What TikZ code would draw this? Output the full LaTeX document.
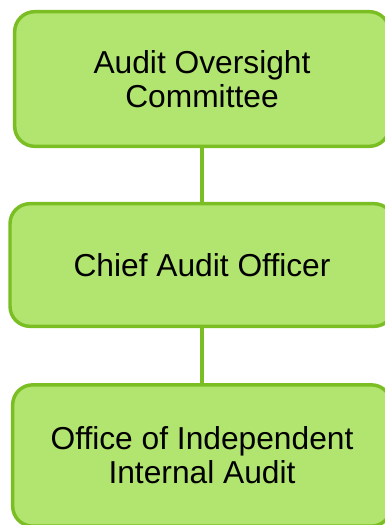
\documentclass[tikz,border=0pt]{standalone}
\usepackage{fontspec}
\setmainfont{Liberation Sans}
\usepackage{tikz}
\usepackage{xcolor}
\usetikzlibrary{positioning}
\definecolor{cFill}{RGB}{177,229,111}
\definecolor{cEdge}{RGB}{122,190,36}
\tikzset{
	orgbox/.style ={rectangle, rounded corners=15pt, draw=cEdge, fill=cFill, line width=2.6pt, align=center, text=black, inner sep=0pt, font=\fontsize{23.8}{25.5}\selectfont},
	orgline/.style={draw=cEdge, line width=2.4pt},
}
\begin{document}
\begin{tikzpicture}[x=0.75pt, y=-0.75pt]
	\path[use as bounding box, clip] (0,0) rectangle (385,525);
	\node[orgbox, minimum width=281pt, minimum height=101pt] (aoc) at (202,79) {Audit Oversight\\Committee};
	\node[orgbox, minimum width=288pt, minimum height=92pt] (cao) at (202,265) {Chief Audit Officer};
	\node[orgbox, minimum width=284pt, minimum height=106pt] (oiia) at (202,455.5) {Office of Independent\\Internal Audit};
	\draw[orgline] (aoc) -- (cao);
	\draw[orgline] (cao) -- (oiia);
\end{tikzpicture}
\end{document}
